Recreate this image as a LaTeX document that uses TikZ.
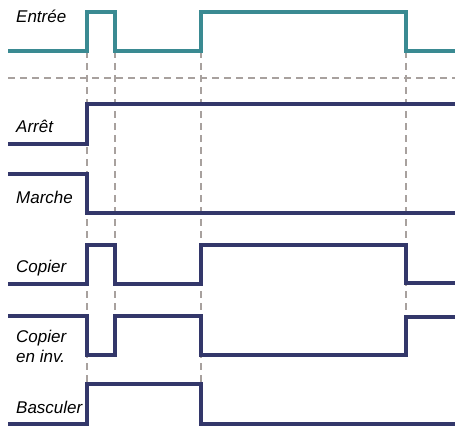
\documentclass[tikz,border=0pt]{standalone}
\usepackage{fontspec}
\setmainfont{Liberation Sans}
\definecolor{teal1}{HTML}{3A8A92}
\definecolor{navy1}{HTML}{33376A}
\definecolor{grid1}{HTML}{A8A19E}
\begin{document}
\begin{tikzpicture}[x=1pt,y=-1pt,
  sig/.style={line width=3.8pt,line join=miter,line cap=butt},
  insig/.style={sig,teal1},
  outsig/.style={sig,navy1},
  guide/.style={grid1,line width=1.3pt,dash pattern=on 7pt off 5pt},
  lbl/.style={anchor=base west,inner sep=0pt,font=\fontsize{17}{20}\selectfont\itshape}]
\useasboundingbox (0,0) rectangle (455,428);
% guides
\draw[guide] (8,78) -- (455,78);
\coordinate (g1t) at (87,51); \coordinate (g1b) at (87,384);
\coordinate (g2t) at (115,51); \coordinate (g2b) at (115,318);
\coordinate (g3t) at (201,51); \coordinate (g3b) at (201,384);
\coordinate (g4t) at (406,51); \coordinate (g4b) at (406,318);
\draw[guide] (g1t) -- (g1b);
\draw[guide] (g2t) -- (g2b);
\draw[guide] (g3t) -- (g3b);
\draw[guide] (g4t) -- (g4b);
% signals
\draw[insig] (8,51) -- (87,51) -- (87,12) -- (115,12) -- (115,51) -- (201,51) -- (201,12) -- (406,12) -- (406,51) -- (455,51);
\draw[outsig] (8,144) -- (87,144) -- (87,104) -- (455,104);
\draw[outsig] (8,174) -- (87,174) -- (87,213) -- (455,213);
\draw[outsig] (8,284) -- (87,284) -- (87,245) -- (115,245) -- (115,284) -- (201,284) -- (201,245) -- (406,245) -- (406,283) -- (455,283);
\draw[outsig] (8,316) -- (87,316) -- (87,355) -- (115,355) -- (115,316) -- (201,316) -- (201,355) -- (406,355) -- (406,317) -- (455,317);
\draw[outsig] (8,424) -- (87,424) -- (87,384) -- (201,384) -- (201,424) -- (455,424);
% labels
\node[lbl] (le) at (16,23) {Entrée};
\node[lbl] (la) at (16,132) {Arrêt};
\node[lbl] (lm) at (16,203) {Marche};
\node[lbl] (lc) at (16,272) {Copier};
\node[lbl] (li) at (16,342) {Copier};
\node[lbl] (li2) at (16,362) {en inv.};
\node[lbl] (lb) at (16,413) {Basculer};
\end{tikzpicture}
\end{document}
